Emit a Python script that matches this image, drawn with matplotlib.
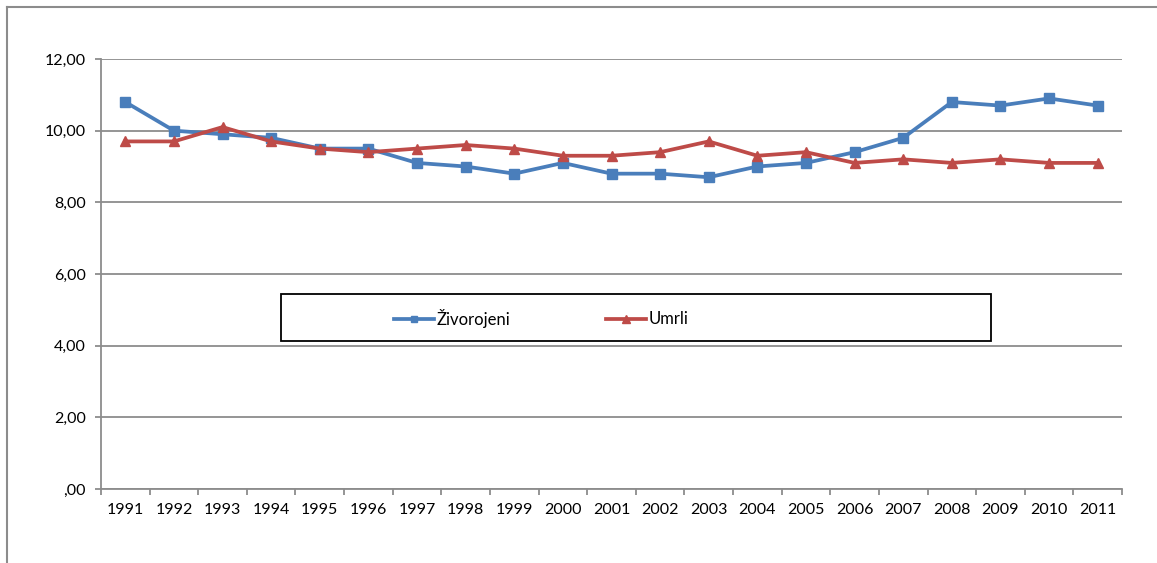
import matplotlib
matplotlib.use("Agg")
import matplotlib.pyplot as plt
from matplotlib.lines import Line2D
from matplotlib.patches import Rectangle
from matplotlib.ticker import FixedLocator, FuncFormatter

plt.rcParams['font.family'] = ['Lato', 'DejaVu Sans']

years = [str(y) for y in range(1991, 2012)]
zivorojeni = [10.8, 10.0, 9.9, 9.8, 9.5, 9.5, 9.1, 9.0, 8.8, 9.1, 8.8,
              8.8, 8.7, 9.0, 9.1, 9.4, 9.8, 10.8, 10.7, 10.9, 10.7]
umrli = [9.7, 9.7, 10.1, 9.7, 9.5, 9.4, 9.5, 9.6, 9.5, 9.3, 9.3,
         9.4, 9.7, 9.3, 9.4, 9.1, 9.2, 9.1, 9.2, 9.1, 9.1]
yticks = [0, 2, 4, 6, 8, 10, 12]

W, H = 1157, 563
fig = plt.figure(figsize=(W / 100, H / 100), dpi=100)
fig.patch.set_facecolor('white')

ax = fig.add_axes([101 / W, 1 - 489 / H, (1122 - 101) / W, (489 - 59) / H])
x = list(range(len(years)))
blue = '#4A7EBB'
red = '#BE4B48'
grid = '#8C8C8C'

ax.plot(x, zivorojeni, color=blue, lw=2.7, marker='s', ms=7, label='Živorojeni', zorder=3)
ax.plot(x, umrli, color=red, lw=2.7, marker='^', ms=7.5, label='Umrli', zorder=3)

ax.set_xlim(-0.5, len(years) - 0.5)
ax.set_ylim(0, 12)
ax.set_yticks(yticks)
ax.yaxis.set_major_formatter(FuncFormatter(lambda v, p: ',00' if v == 0 else f'{v:.2f}'.replace('.', ',')))
ax.set_xticks(x)
ax.set_xticklabels(years)
ax.xaxis.set_minor_locator(FixedLocator([i - 0.5 for i in range(len(years) + 1)]))

ax.tick_params(axis='x', which='major', length=0, pad=10, labelsize=11.5, colors='black')
ax.tick_params(axis='x', which='minor', length=4, width=1.3, color=grid)
ax.tick_params(axis='y', which='major', length=4, width=1.3, color=grid, pad=7, labelsize=11.5, labelcolor='black')

ax.grid(axis='y', color=grid, lw=1.3)
ax.set_axisbelow(True)
for s in ['top', 'right']:
    ax.spines[s].set_visible(False)
for s in ['left', 'bottom']:
    ax.spines[s].set_color(grid)
    ax.spines[s].set_linewidth(1.3)

# legend box
rect = Rectangle((281 / W, 1 - 341 / H), (991 - 281) / W, (341 - 294) / H,
                 transform=fig.transFigure, facecolor='white', edgecolor='black',
                 lw=1.3, zorder=5)
fig.add_artist(rect)
leg = fig.legend(loc='center left', bbox_to_anchor=(394 / W, 1 - 318 / H), ncol=2,
                 frameon=False, fontsize=12, handlelength=2.4, handletextpad=0.15,
                 columnspacing=5.75, borderpad=0, borderaxespad=0, markerscale=0.7)
leg.set_zorder(6)

# outer chart border (cropped)
fig.add_artist(Line2D([7 / W, 1.0], [1 - 7 / H, 1 - 7 / H], transform=fig.transFigure,
                      color=grid, lw=1.5))
fig.add_artist(Line2D([7 / W, 7 / W], [1 - 7 / H, 0.0], transform=fig.transFigure,
                      color=grid, lw=1.5))

fig.savefig('out.png', dpi=100)
